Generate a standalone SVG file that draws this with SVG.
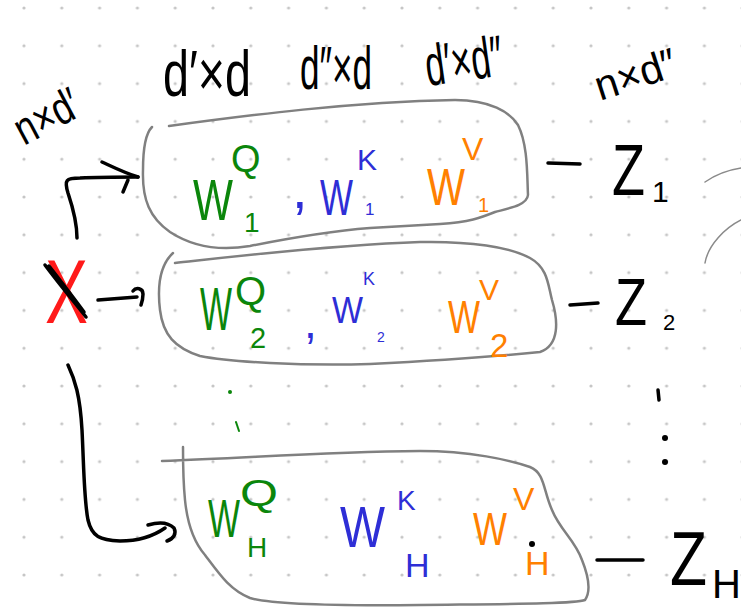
<svg xmlns="http://www.w3.org/2000/svg" width="741" height="610" viewBox="0 0 741 610">
<style>
  text { font-family: "Liberation Sans", Arial, sans-serif; }
  .k { fill: #000; }
  .g { fill: #0b860b; }
  .b { fill: #2e2ed6; }
  .o { fill: #ff8000; }
  .r { fill: #ff1a1a; }
  .box { fill: none; stroke: #808080; stroke-width: 2.5; stroke-linecap: round; stroke-linejoin: round; }
  .ink { fill: none; stroke: #000; stroke-width: 3.5; stroke-linecap: round; stroke-linejoin: round; }
  .thin { fill: none; stroke: #8a8a8a; stroke-width: 1.5; stroke-linecap: round; }
</style>
<defs>
  <pattern id="grid" x="5.1" y="-10.9" width="37.8" height="37.8" patternUnits="userSpaceOnUse">
    <circle cx="18.9" cy="18.9" r="1.6" fill="#c6c6c6"/>
  </pattern>
</defs>
<rect width="741" height="610" fill="#fff"/>
<rect width="741" height="610" fill="url(#grid)"/>

<g id="headers">
  <text class="k" x="24" y="146" font-size="46" textLength="68" lengthAdjust="spacingAndGlyphs" transform="rotate(-28 24 146)">n×d′</text>
  <text class="k" x="163" y="96" font-size="64" textLength="88" lengthAdjust="spacingAndGlyphs">d′×d</text>
  <text class="k" x="300" y="89" font-size="62" textLength="72" lengthAdjust="spacingAndGlyphs">d″×d</text>
  <text class="k" x="428" y="86" font-size="58" textLength="78" lengthAdjust="spacingAndGlyphs" transform="rotate(-8 428 86)">d′×d″</text>
  <text class="k" x="600" y="101" font-size="42" textLength="84" lengthAdjust="spacingAndGlyphs" transform="rotate(-18 600 101)">n×d″</text>
</g>

<g id="input-X">
  <text class="r" x="45" y="323" font-size="90" textLength="43" lengthAdjust="spacingAndGlyphs">X</text>
  <path class="ink" stroke-width="2.5" d="M45,265 C 60,285 75,303 86,317 M49,266 C 63,284 76,301 84,312"/>
</g>

<g id="connectors">
  <path class="ink" d="M77,238 C 77,225 72,205 68,193 C 64,180 66,178 80,178 C 100,177 120,177 138,177"/>
  <path class="ink" d="M102,162 C 115,168 125,173 138,177 M128,180 L123,192"/>
  <path class="ink" d="M98,300 L137,297 M133,291 C 136,287 143,288 143,294 C 143,299 142,302 141,305"/>
  <path class="ink" d="M68,365 C 75,380 80,395 82,430 C 84,470 84,500 88,520 C 92,537 100,540 120,541 C 140,541 155,535 165,528"/>
  <path class="ink" d="M148,525 C 158,522 168,522 174,528 C 177,534 173,539 167,541"/>
  <path class="ink" d="M548,163 L580,164"/>
  <path class="ink" d="M570,305 L598,303"/>
  <path class="ink" d="M597,560 L643,560"/>
  <path class="thin" d="M705,182 C 715,175 728,170 741,168"/>
  <path class="thin" d="M705,263 C 708,245 725,228 741,220"/>
</g>

<g id="head-1">
  <path class="box" d="M169,126 C 250,115 350,102 455,100 C 490,100 510,112 518,125 C 528,145 527,175 528,195 C 527,205 510,208 495,212 C 480,218 470,222 440,224 L 370,228 C 320,232 280,240 250,246 C 215,252 190,245 170,232 C 150,218 142,200 143,170 C 143,145 146,133 152,127"/>
  <text class="g" x="193" y="220" font-size="58" textLength="40" lengthAdjust="spacingAndGlyphs">W</text>
  <text class="g" x="231" y="172" font-size="38">Q</text>
  <text class="g" x="244" y="232" font-size="28">1</text>
  <text class="b" x="292" y="208" font-size="56">,</text>
  <text class="b" x="320" y="215" font-size="50" textLength="33" lengthAdjust="spacingAndGlyphs">W</text>
  <text class="b" x="357" y="170" font-size="30">K</text>
  <text class="b" x="365" y="215" font-size="17">1</text>
  <text class="o" x="427" y="205" font-size="52" textLength="38" lengthAdjust="spacingAndGlyphs">W</text>
  <text class="o" x="462" y="160" font-size="32">V</text>
  <text class="o" x="478" y="212" font-size="20">1</text>
</g>

<g id="head-2">
  <path class="box" d="M175,263 C 230,257 330,245 420,242 C 470,241 510,247 530,258 C 548,268 548,285 552,300 C 558,320 560,345 540,352 C 500,356 450,360 370,364 C 300,366 230,362 200,356 C 175,348 163,335 160,310 C 157,285 160,265 173,253"/>
  <text class="g" x="200" y="330" font-size="62" textLength="32" lengthAdjust="spacingAndGlyphs">W</text>
  <text class="g" x="235" y="305" font-size="40">Q</text>
  <text class="g" x="250" y="348" font-size="29">2</text>
  <text class="b" x="304" y="338" font-size="46">,</text>
  <text class="b" x="332" y="323" font-size="36" textLength="31" lengthAdjust="spacingAndGlyphs">W</text>
  <text class="b" x="363" y="285" font-size="18">K</text>
  <text class="b" x="377" y="342" font-size="14">2</text>
  <text class="o" x="448" y="333" font-size="46" textLength="32" lengthAdjust="spacingAndGlyphs">W</text>
  <text class="o" x="479" y="300" font-size="30">V</text>
  <text class="o" x="490" y="357" font-size="33">2</text>
</g>

<g id="ellipsis-left">
  <circle cx="230" cy="392" r="2" fill="#0b860b"/>
  <path d="M236,422 L239,431" stroke="#0b860b" stroke-width="2" stroke-linecap="round"/>
</g>

<g id="head-H">
  <path class="box" d="M162,461 C 250,458 320,452 420,451 C 470,451 510,460 530,467 C 545,473 543,490 552,510 C 560,530 575,540 582,560 C 588,575 592,590 585,600 C 575,604 500,604 420,605 C 330,606 270,604 250,598 C 230,590 220,575 205,555 C 192,540 187,520 185,500 C 183,480 183,465 183,447"/>
  <text class="g" x="208" y="537" font-size="54" textLength="32" lengthAdjust="spacingAndGlyphs">W</text>
  <text class="g" x="240" y="506" font-size="36" textLength="38" lengthAdjust="spacingAndGlyphs">Q</text>
  <text class="g" x="247" y="557" font-size="28">H</text>
  <text class="b" x="340" y="547" font-size="58" textLength="45" lengthAdjust="spacingAndGlyphs">W</text>
  <text class="b" x="397" y="510" font-size="28">K</text>
  <text class="b" x="405" y="577" font-size="34">H</text>
  <text class="o" x="473" y="545" font-size="46" textLength="34" lengthAdjust="spacingAndGlyphs">W</text>
  <text class="o" x="513" y="510" font-size="32">V</text>
  <circle cx="532" cy="544" r="3" fill="#000"/>
  <text class="o" x="525" y="575" font-size="34">H</text>
</g>

<g id="z-1">
  <text class="k" x="612" y="195" font-size="72" textLength="33" lengthAdjust="spacingAndGlyphs">Z</text>
  <text class="k" x="652" y="202" font-size="30">1</text>
</g>
<g id="z-2">
  <text class="k" x="615" y="325" font-size="66" textLength="32" lengthAdjust="spacingAndGlyphs">Z</text>
  <text class="k" x="663" y="330" font-size="22">2</text>
</g>
<g id="ellipsis-right">
  <path class="ink" d="M658,390 L659,400"/>
  <circle cx="665" cy="438" r="3" fill="#000"/>
  <circle cx="665" cy="462" r="3" fill="#000"/>
</g>
<g id="z-H">
  <text class="k" x="670" y="585" font-size="76" textLength="37" lengthAdjust="spacingAndGlyphs">Z</text>
  <text class="k" x="712" y="598" font-size="40">H</text>
</g>
</svg>
